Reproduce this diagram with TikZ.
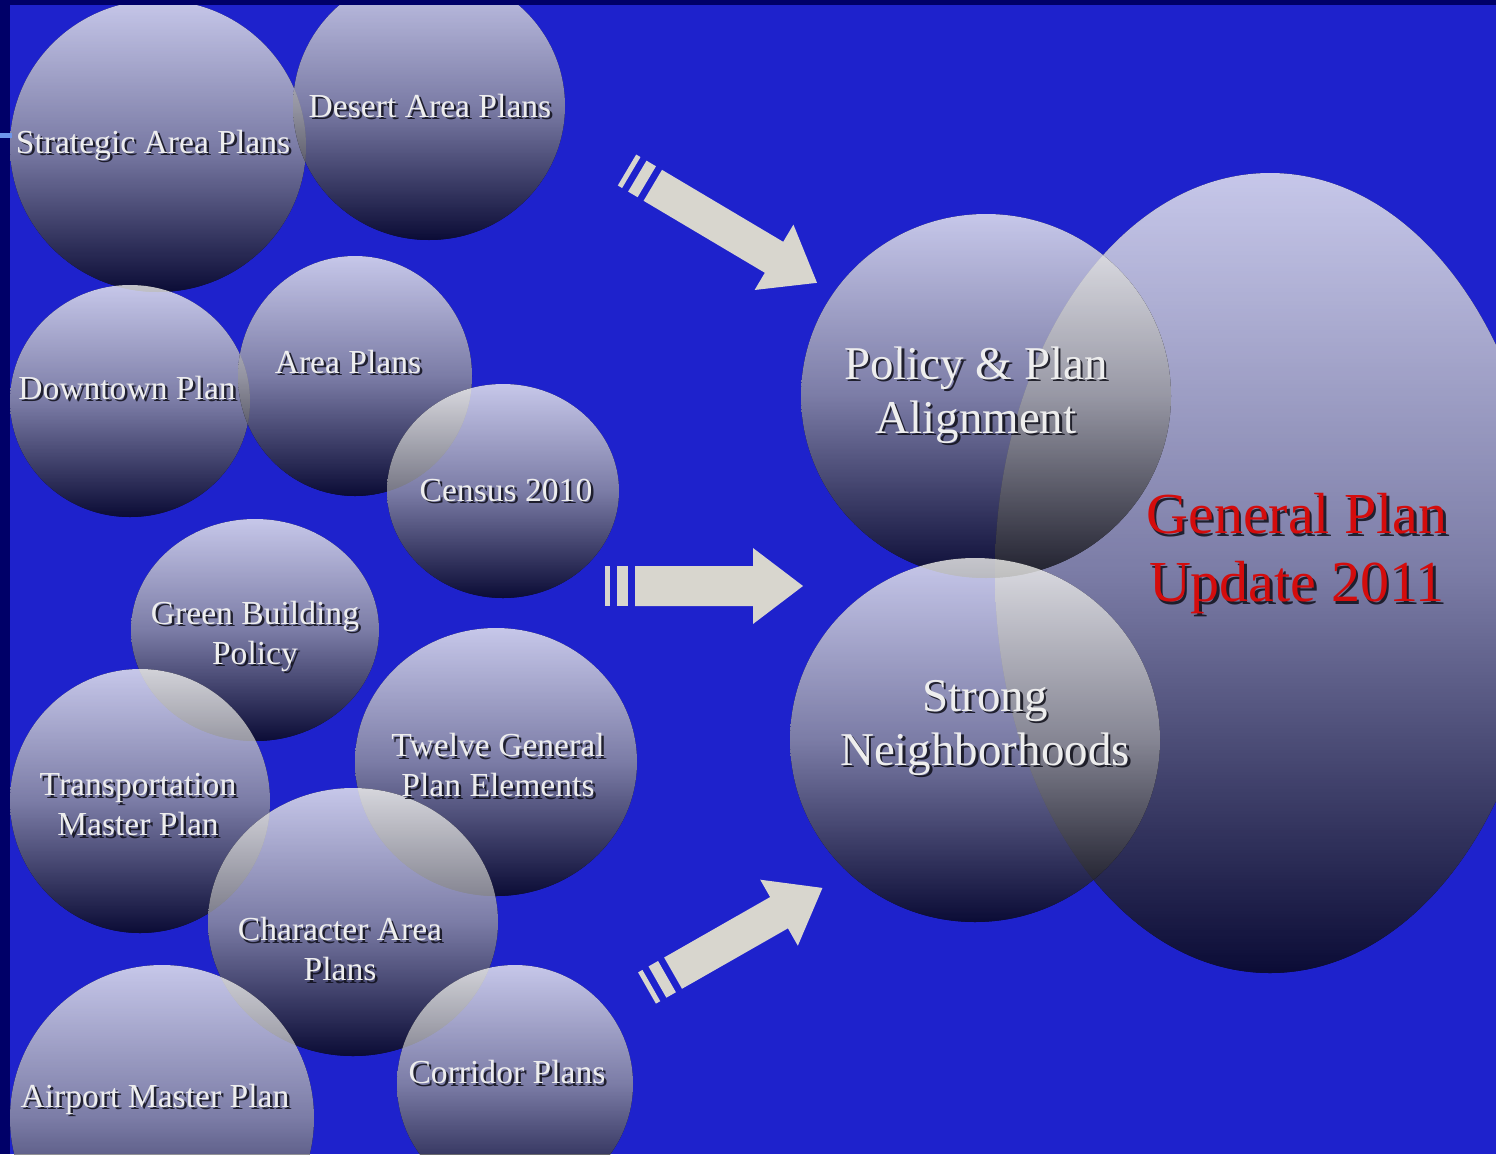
\documentclass[tikz,border=0pt]{standalone}
\usepackage{fontspec}
\setmainfont{Liberation Serif}
\usetikzlibrary{calc}
\definecolor{bgblue}{RGB}{30,34,204}
\definecolor{navy}{RGB}{0,0,104}
\definecolor{tick}{RGB}{110,150,235}
\definecolor{arrowgray}{RGB}{216,214,206}
\definecolor{ctop}{RGB}{246,246,242}
\definecolor{cmid}{RGB}{150,150,156}
\definecolor{cbot}{RGB}{6,6,12}
\definecolor{txt}{RGB}{238,238,238}
\definecolor{shadowc}{RGB}{15,15,25}
\definecolor{redtxt}{RGB}{212,12,12}
\tikzset{
  bubble/.style={top color=ctop, bottom color=cbot, middle color=cmid, draw=none},
  smalltxt/.style={font=\fontsize{33.6}{40}\selectfont, text=txt, align=center, inner sep=0pt},
  largetxt/.style={font=\fontsize{47}{54}\selectfont, text=txt, align=center, inner sep=0pt},
  redtext/.style={font=\fontsize{58}{68}\selectfont, text=redtxt, align=center, inner sep=0pt},
  arrowfill/.style={fill=arrowgray, draw=none},
}
\newcommand\shadowlabel[4]{%
  \node[#3, text=shadowc, text opacity=0.85] (#1s) at ($(#2)+(2.5,2.5)$) {#4};
  \node[#3] (#1) at (#2) {#4};
}
\newcommand\bubbleat[4]{% x, y, rx, ry
  \begin{scope}[transparency group, opacity=0.78]
    \fill[bubble] (#1,#2) ellipse [x radius=#3, y radius=#4];
  \end{scope}
}
\newcommand\blockarrow[5]{% x, y, angle, length, half body width
  \begin{scope}[shift={(#1,#2)}, rotate=#3]
    \fill[arrowfill] (0,-#5) rectangle (5,#5);
    \fill[arrowfill] (12,-#5) rectangle (23,#5);
    \fill[arrowfill] (30,-#5) -- ({#4-50},-#5) -- ({#4-50},-38) -- (#4,0)
       -- ({#4-50},38) -- ({#4-50},#5) -- (30,#5) -- cycle;
  \end{scope}
}
\begin{document}
\begin{tikzpicture}[x=1pt,y=-1pt]
\useasboundingbox (0,0) rectangle (1496,1154);
\begin{scope}
\clip (0,0) rectangle (1496,1154);
\fill[bgblue] (0,0) rectangle (1496,1154);
% left bubbles
\bubbleat{158}{146}{148}{146}
\bubbleat{429}{106}{136}{134}
\bubbleat{130}{401}{120}{116}
\bubbleat{355}{376}{117}{120}
\bubbleat{503}{491}{116}{107}
\bubbleat{255}{630}{124}{111}
\bubbleat{140}{801}{130}{132}
\bubbleat{496}{762}{141}{134}
\bubbleat{353}{922}{145}{134}
\bubbleat{162}{1118}{152}{153}
\bubbleat{515}{1084}{118}{119}
% right bubbles
\bubbleat{1270}{573}{275}{400}
\bubbleat{986}{396}{185}{182}
\bubbleat{975}{740}{185}{182}
% arrows
\blockarrow{627}{170}{-30.7}{221}{18}
\blockarrow{605}{586}{0}{198}{20}
\blockarrow{647}{988}{29.7}{202}{18}
% frame
\fill[navy] (0,0) rectangle (10,1154);
\fill[navy] (0,0) rectangle (1496,5);
\fill[tick] (0,133) rectangle (12,138);
\end{scope}
% labels
\shadowlabel{strat}{153,145}{smalltxt}{Strategic Area Plans}
\shadowlabel{desert}{430,106}{smalltxt}{Desert Area Plans}
\shadowlabel{downtown}{127,388}{smalltxt}{Downtown Plan}
\shadowlabel{area}{348,362}{smalltxt}{Area Plans}
\shadowlabel{census}{506,490}{smalltxt}{Census 2010}
\shadowlabel{green}{255,636}{smalltxt}{Green Building\\Policy}
\shadowlabel{transport}{138,805}{smalltxt}{Transportation\\Master Plan}
\shadowlabel{twelve}{498,765}{smalltxt}{Twelve General\\Plan Elements}
\shadowlabel{character}{340,949}{smalltxt}{Character Area\\Plans}
\shadowlabel{airport}{155,1099}{smalltxt}{Airport Master Plan}
\shadowlabel{corridor}{507,1072}{smalltxt}{Corridor Plans}
\shadowlabel{policy}{976,395}{largetxt}{Policy \& Plan\\Alignment}
\shadowlabel{strong}{985,728}{largetxt}{Strong\\Neighborhoods}
\shadowlabel{general}{1297,554}{redtext}{General Plan\\Update 2011}
\end{tikzpicture}
\end{document}
